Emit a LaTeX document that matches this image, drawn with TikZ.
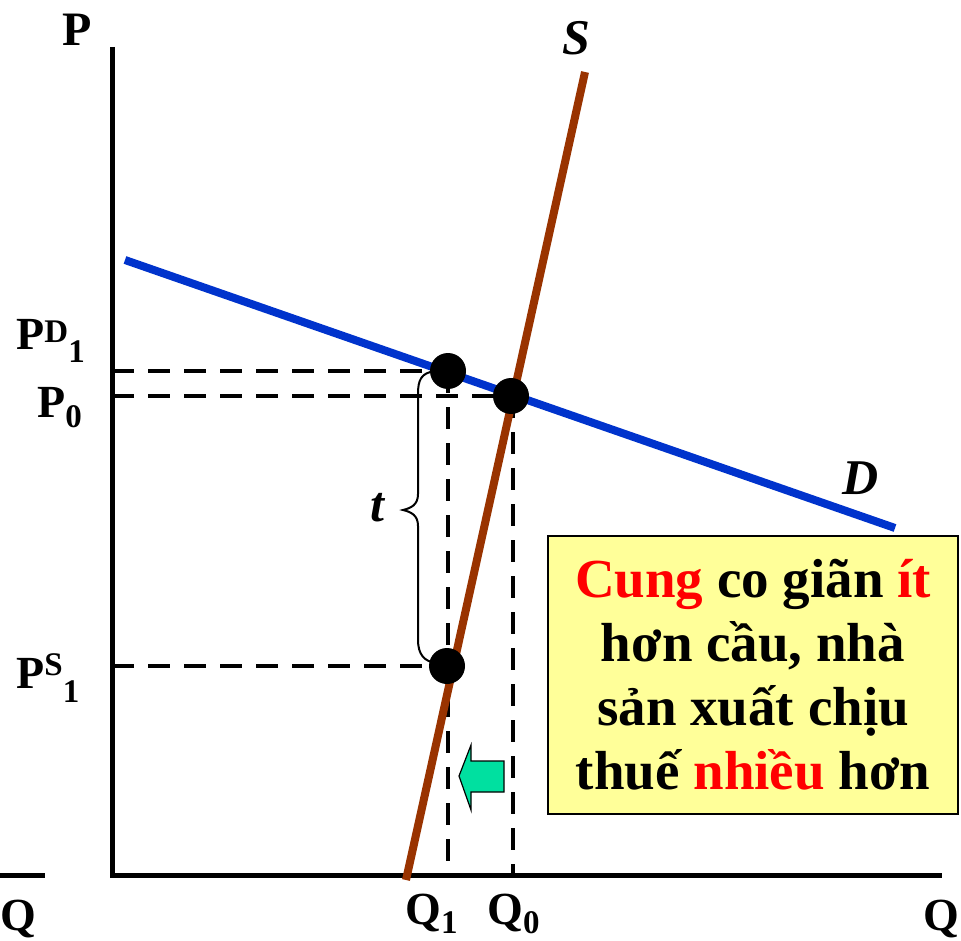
\documentclass[tikz,border=0pt]{standalone}
\usepackage{fontspec}
\setmainfont{Liberation Serif}
\definecolor{dblue}{RGB}{0,51,204}
\definecolor{sbrown}{RGB}{153,51,0}
\definecolor{agreen}{RGB}{0,224,160}
\definecolor{boxy}{RGB}{255,255,153}
\begin{document}
\begin{tikzpicture}[x=0.5pt,y=-0.5pt,
  axis/.style={line width=2.5pt,black},
  guide/.style={line width=2pt,dash pattern=on 11pt off 7pt},
  dot/.style={circle,fill=black,minimum size=18pt,inner sep=0pt},
  curveD/.style={line width=4pt,dblue},
  curveS/.style={line width=4pt,sbrown},
  lbl/.style={font=\bfseries\fontsize{23}{23}\selectfont,inner sep=0pt},
  ilbl/.style={font=\bfseries\itshape\fontsize{25}{25}\selectfont,inner sep=0pt},
  note/.style={draw=black,line width=1pt,fill=boxy,minimum width=205pt,minimum height=139pt,
    align=center,inner sep=0pt,font=\bfseries\fontsize{27.5}{32}\selectfont}]
\newcommand{\idx}[2]{\raisebox{#1}{\fontsize{16.5}{16.5}\selectfont #2}}
\useasboundingbox (0,0) rectangle (961,940);
% axes
\coordinate (ytop) at (112,47);
\coordinate (orig) at (112,875);
\coordinate (xend) at (942,875);
\coordinate (lstart) at (0,875);
\coordinate (lend) at (45,875);
\draw[axis] (ytop) -- (orig) -- (xend);
\draw[axis] (lstart) -- (lend);
% curve end points
\coordinate (d1) at (125,260);
\coordinate (d2) at (895,528);
\coordinate (s1) at (585,72);
\coordinate (s2) at (406,880);
% dot centres and axis points
\path (448,371) coordinate (pdc);
\path (511,396) coordinate (e0c);
\path (447,666) coordinate (psc);
\coordinate (apd) at (112,371);
\coordinate (ap0) at (112,396);
\coordinate (aps) at (112,666);
% guides
\draw[guide] (apd) -- (pdc);
\draw[guide] (ap0) -- (e0c);
\draw[guide] (aps) -- (psc);
\draw[guide] (pdc) -- (pdc |- orig);
\draw[guide] (513,396) -- (513,875);
% curves
\draw[curveD] (d1) -- (d2);
\draw[curveS] (s2) -- (s1);
% dots
\node[dot] (pd) at (pdc) {};
\node[dot] (e0) at (e0c) {};
\node[dot] (ps) at (psc) {};
% brace
\draw[line width=1pt] (435,371) .. controls (421,373) and (418,380) .. (418,394)
  -- (418,494) .. controls (418,505) and (411,508) .. (403,510)
  .. controls (411,512) and (418,515) .. (418,526)
  -- (418,640) .. controls (418,654) and (424,662) .. (437,663);
\node[ilbl] (t) at (377,508) {t};
% green arrow
\draw[fill=agreen,line width=0.6pt] (504,761) -- (471,761) -- (471,745) -- (459,776)
  -- (471,810) -- (471,792) -- (504,792) -- cycle;
% labels
\node[ilbl] (slab) at (576,38) {S};
\node[ilbl] (dlab) at (861,478) {D};
\node[lbl,font=\bfseries\fontsize{24}{24}\selectfont] (plab) at (77,30) {P};
\node[lbl,anchor=base west] (lpd) at (16,350) {P\idx{3.5pt}{D}\idx{-6pt}{1}};
\node[lbl,anchor=base west] (lp0) at (37,417) {P\idx{-5pt}{0}};
\node[lbl,anchor=base west] (lps) at (16,688) {P\idx{6.5pt}{S}\idx{-7pt}{1}};
\node[lbl,anchor=base west] (lq) at (0,930) {Q};
\node[lbl,anchor=base west] (rq) at (923,930) {Q};
\node[lbl,anchor=base west] (lq1) at (405,924) {Q\idx{-4.5pt}{1}};
\node[lbl,anchor=base west] (lq0) at (487,924) {Q\idx{-4.5pt}{0}};
% note box
\node[note] (box) at (753,675) {\textcolor{red}{Cung} co giãn \textcolor{red}{ít}\\
hơn cầu, nhà\\ sản xuất chịu\\ thuế \textcolor{red}{nhiều} hơn};
\end{tikzpicture}
\end{document}
